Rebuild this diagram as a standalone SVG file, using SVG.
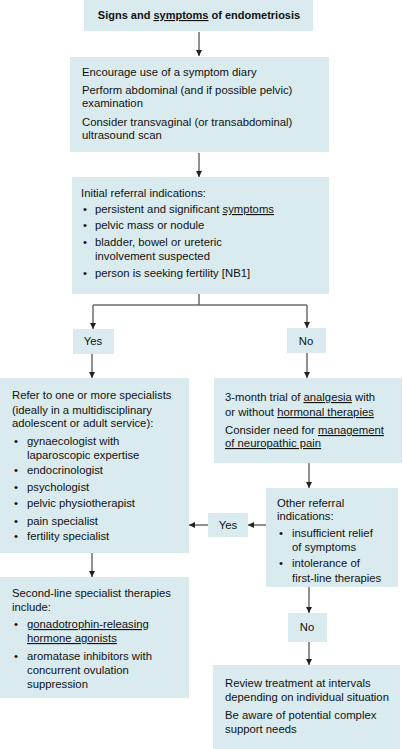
<svg xmlns="http://www.w3.org/2000/svg" width="403" height="749" viewBox="0 0 403 749">
<defs>
<marker id="ah" viewBox="0 0 10 10" refX="10" refY="5" markerWidth="6" markerHeight="6" orient="auto" markerUnits="userSpaceOnUse">
<path d="M0,0 L10,5 L0,10 z" fill="#222"/>
</marker>
<style>
.box{fill:#d9ebef;}
.t{font-family:"Liberation Sans",Arial,sans-serif;font-size:11.3px;fill:#111;}
.b{font-weight:bold;font-size:11px;}
.u{text-decoration:underline;}
.c{stroke:#6b6b6b;stroke-width:1.5;fill:none;}
.a{marker-end:url(#ah);}
</style>
</defs>
<rect width="403" height="749" fill="#fff"/>
<g id="connectors">
<path class="c a" d="M199,32 V56"/>
<path class="c a" d="M199,153 V177"/>
<path class="c" d="M199,294 V305 M93,305 H307"/>
<path class="c a" d="M93,305 V329"/>
<path class="c a" d="M307,305 V328"/>
<path class="c a" d="M92,354 V378"/>
<path class="c a" d="M307,353 V378"/>
<path class="c a" d="M309,463 V488"/>
<path class="c a" d="M266,525 H248"/>
<path class="c a" d="M208,525 H189"/>
<path class="c a" d="M92,553 V577"/>
<path class="c a" d="M309,587 V613"/>
<path class="c a" d="M309,642 V665"/>
</g>
<g id="n1">
<rect class="box" x="84" y="0" width="229" height="31"/>
<text class="t b" x="199" y="19" text-anchor="middle">Signs and <tspan class="u">symptoms</tspan> of endometriosis</text>
</g>
<g id="n2">
<rect class="box" x="70" y="57" width="259" height="95"/>
<text class="t" x="82" y="76">Encourage use of a symptom diary</text>
<text class="t" x="82" y="94">Perform abdominal (and if possible pelvic)</text>
<text class="t" x="82" y="107">examination</text>
<text class="t" x="82" y="126">Consider transvaginal (or transabdominal)</text>
<text class="t" x="82" y="139">ultrasound scan</text>
</g>
<g id="n3">
<rect class="box" x="72" y="177" width="257" height="117"/>
<text class="t" x="81" y="197">Initial referral indications:</text>
<text class="t" x="83" y="213">•</text><text class="t" x="95" y="213">persistent and significant <tspan class="u">symptoms</tspan></text>
<text class="t" x="83" y="229">•</text><text class="t" x="95" y="229">pelvic mass or nodule</text>
<text class="t" x="83" y="246">•</text><text class="t" x="95" y="246">bladder, bowel or ureteric</text>
<text class="t" x="95" y="260">involvement suspected</text>
<text class="t" x="83" y="277">•</text><text class="t" x="95" y="277">person is seeking fertility [NB1]</text>
</g>
<g id="yes1">
<rect class="box" x="73" y="329" width="41" height="25"/>
<text class="t" x="93" y="345" text-anchor="middle">Yes</text>
</g>
<g id="no1">
<rect class="box" x="287" y="328" width="39" height="25"/>
<text class="t" x="306" y="345" text-anchor="middle">No</text>
</g>
<g id="n4">
<rect class="box" x="0" y="378" width="189" height="175"/>
<text class="t" x="12" y="399">Refer to one or more specialists</text>
<text class="t" x="12" y="414">(ideally in a multidisciplinary</text>
<text class="t" x="12" y="427">adolescent or adult service):</text>
<text class="t" x="14" y="445">•</text><text class="t" x="27" y="445">gynaecologist with</text>
<text class="t" x="27" y="459">laparoscopic expertise</text>
<text class="t" x="14" y="474">•</text><text class="t" x="27" y="474">endocrinologist</text>
<text class="t" x="14" y="491">•</text><text class="t" x="27" y="491">psychologist</text>
<text class="t" x="14" y="507">•</text><text class="t" x="27" y="507">pelvic physiotherapist</text>
<text class="t" x="14" y="525">•</text><text class="t" x="27" y="525">pain specialist</text>
<text class="t" x="14" y="540">•</text><text class="t" x="27" y="540">fertility specialist</text>
</g>
<g id="n5">
<rect class="box" x="214" y="378" width="188" height="85"/>
<text class="t" x="225" y="401">3-month trial of <tspan class="u">analgesia</tspan> with</text>
<text class="t" x="225" y="416">or without <tspan class="u">hormonal therapies</tspan></text>
<text class="t" x="225" y="434">Consider need for <tspan class="u">management</tspan></text>
<text class="t u" x="225" y="447">of neuropathic pain</text>
</g>
<g id="n6">
<rect class="box" x="266" y="488" width="132" height="99"/>
<text class="t" x="277" y="507">Other referral</text>
<text class="t" x="277" y="520">indications:</text>
<text class="t" x="279" y="537">•</text><text class="t" x="292" y="537">insufficient relief</text>
<text class="t" x="292" y="551">of symptoms</text>
<text class="t" x="279" y="567">•</text><text class="t" x="292" y="567">intolerance of</text>
<text class="t" x="292" y="582">first-line therapies</text>
</g>
<g id="yes2">
<rect class="box" x="208" y="513" width="40" height="24"/>
<text class="t" x="228" y="529" text-anchor="middle">Yes</text>
</g>
<g id="n7">
<rect class="box" x="0" y="577" width="189" height="121"/>
<text class="t" x="12" y="597">Second-line specialist therapies</text>
<text class="t" x="12" y="611">include:</text>
<text class="t" x="14" y="628">•</text><text class="t u" x="27" y="628">gonadotrophin-releasing</text>
<text class="t u" x="27" y="642">hormone agonists</text>
<text class="t" x="14" y="660">•</text><text class="t" x="27" y="660">aromatase inhibitors with</text>
<text class="t" x="27" y="674">concurrent ovulation</text>
<text class="t" x="27" y="688">suppression</text>
</g>
<g id="no2">
<rect class="box" x="288" y="613" width="39" height="29"/>
<text class="t" x="307" y="631" text-anchor="middle">No</text>
</g>
<g id="n8">
<rect class="box" x="213" y="665" width="187" height="84"/>
<text class="t" x="225" y="687">Review treatment at intervals</text>
<text class="t" x="225" y="701">depending on individual situation</text>
<text class="t" x="225" y="719">Be aware of potential complex</text>
<text class="t" x="225" y="733">support needs</text>
</g>
</svg>
